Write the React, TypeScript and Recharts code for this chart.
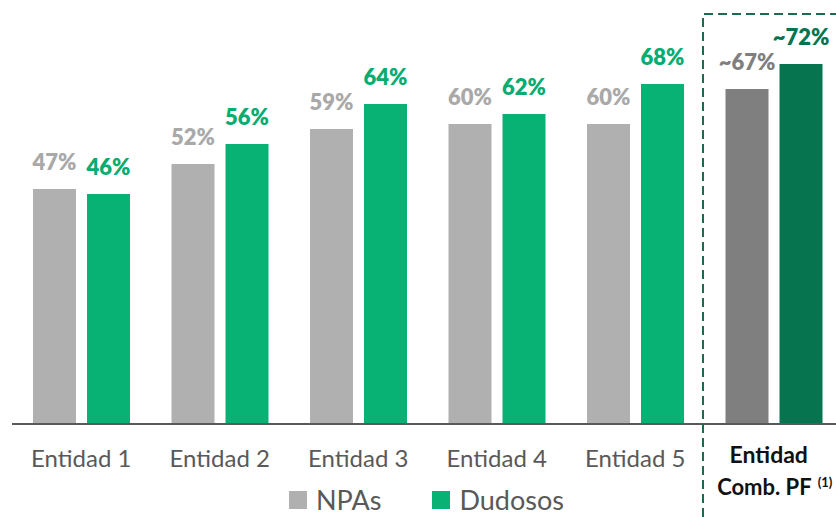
import { BarChart, Bar, XAxis, YAxis, Cell, LabelList } from "recharts";

const categories = [
  "Entidad 1",
  "Entidad 2",
  "Entidad 3",
  "Entidad 4",
  "Entidad 5",
  "Entidad Comb. PF",
];
const npas = [47, 52, 59, 60, 60, 67];
const dudosos = [46, 56, 64, 62, 68, 72];
const npaLabels = ["47%", "52%", "59%", "60%", "60%", "~67%"];
const dudosoLabels = ["46%", "56%", "64%", "62%", "68%", "~72%"];

const NPA_COLORS = ["#b0b0b0", "#7f7f7f"];
const DUD_COLORS = ["#07b274", "#06744e"];
const NPA_LABEL_COLORS = ["#a9a9a9", "#7f7f7f"];
const DUD_LABEL_COLORS = ["#06ac70", "#06744e"];
const FONT = "Lato, 'Open Sans', sans-serif";

const chartData = categories.map((name, i) => ({
  name,
  npas: npas[i],
  dudosos: dudosos[i],
}));

const isLast = (i: number) => i === categories.length - 1;

function valueLabel(labels: string[], colors: string[]) {
  return (props: any) => {
    const { x, y, width, index } = props;
    return (
      <text
        x={x + width / 2}
        y={y - 19}
        textAnchor="middle"
        fontFamily={FONT}
        fontWeight={800}
        fontSize={22}
        fill={isLast(index) ? colors[1] : colors[0]}
      >
        {labels[index]}
      </text>
    );
  };
}

function CategoryTick(props: any) {
  const { x, y, payload, index } = props;
  if (isLast(index)) {
    return (
      <g>
        <text
          x={x - 5}
          y={y + 31}
          textAnchor="middle"
          fontFamily={FONT}
          fontWeight={700}
          fontSize={23}
          fill="#111"
        >
          Entidad
        </text>
        <text
          x={x + 1}
          y={y + 63}
          textAnchor="middle"
          fontFamily={FONT}
          fontWeight={700}
          fontSize={22}
          fill="#111"
        >
          Comb. PF
          <tspan dx={6} dy={-8} fontSize={13}>
            (1)
          </tspan>
        </text>
      </g>
    );
  }
  return (
    <text
      x={x}
      y={y + 35}
      textAnchor="middle"
      fontFamily={FONT}
      fontSize={24}
      fill="#595959"
    >
      {payload.value}
    </text>
  );
}

export default function App() {
  return (
    <div
      style={{
        position: "absolute",
        left: 0,
        top: 0,
        width: 836,
        height: 517,
        overflow: "hidden",
        background: "#fff",
      }}
    >
      <BarChart
        width={843}
        height={517}
        data={chartData}
        margin={{ top: 24, right: 0, bottom: 33, left: 12 }}
        barSize={43}
        barGap={11}
      >
        <XAxis
          dataKey="name"
          height={60}
          tickLine={false}
          axisLine={{ stroke: "#595959", strokeWidth: 2 }}
          tick={<CategoryTick />}
          interval={0}
        />
        <YAxis hide domain={[0, 80]} />
        <Bar dataKey="npas" isAnimationActive={false}>
          {chartData.map((_, i) => (
            <Cell key={i} fill={isLast(i) ? NPA_COLORS[1] : NPA_COLORS[0]} />
          ))}
          <LabelList
            dataKey="npas"
            content={valueLabel(npaLabels, NPA_LABEL_COLORS)}
          />
        </Bar>
        <Bar dataKey="dudosos" isAnimationActive={false}>
          {chartData.map((_, i) => (
            <Cell key={i} fill={isLast(i) ? DUD_COLORS[1] : DUD_COLORS[0]} />
          ))}
          <LabelList
            dataKey="dudosos"
            content={valueLabel(dudosoLabels, DUD_LABEL_COLORS)}
          />
        </Bar>
      </BarChart>

      {/* dashed frame round the combined entity */}
      <svg
        width={836}
        height={517}
        style={{ position: "absolute", left: 0, top: 0, pointerEvents: "none" }}
      >
        <path
          d="M703,517 L703,14 L836,14"
          fill="none"
          stroke="#1c6b4e"
          strokeWidth={2}
          strokeDasharray="9 5"
        />
      </svg>

      <div
        style={{
          position: "absolute",
          top: 483,
          left: 289,
          display: "flex",
          alignItems: "center",
          fontFamily: FONT,
          fontSize: 27,
          color: "#595959",
        }}
      >
        <span
          style={{ width: 18, height: 18, background: NPA_COLORS[0], marginRight: 9 }}
        />
        <span style={{ marginRight: 51 }}>NPAs</span>
        <span
          style={{ width: 18, height: 18, background: DUD_COLORS[0], marginRight: 9 }}
        />
        <span>Dudosos</span>
      </div>
    </div>
  );
}
